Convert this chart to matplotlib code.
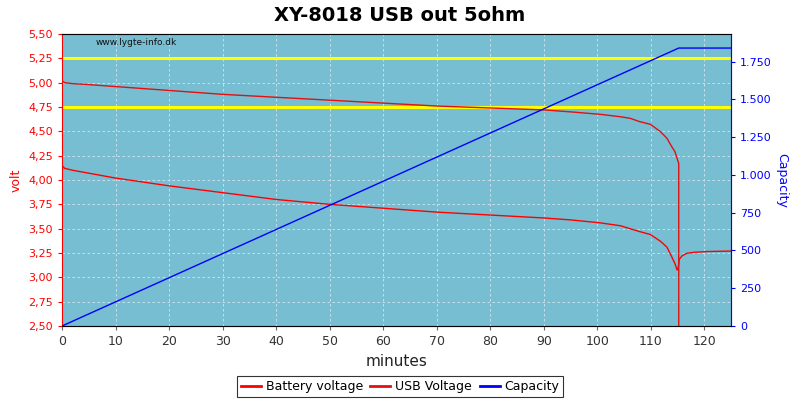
import numpy as np
import matplotlib.pyplot as plt
from matplotlib.ticker import FuncFormatter

# Data
bat_time = [0, 0.5, 2, 5, 10, 20, 30, 40, 50, 60, 70, 80, 90, 95, 100.5, 104.3, 106.1, 107.9,
            109.9, 111.8, 113.0, 113.9, 114.5, 114.9, 115.1, 115.3, 115.8, 116.7, 118.0, 120.5, 125]
bat_volt = [4.15, 4.12, 4.10, 4.07, 4.02, 3.94, 3.87, 3.80, 3.75, 3.71, 3.67, 3.64, 3.61, 3.59,
            3.56, 3.53, 3.50, 3.47, 3.44, 3.37, 3.31, 3.21, 3.14, 3.075, 3.10, 3.185, 3.22, 3.247,
            3.257, 3.265, 3.27]

usb_time = [0, 0.5, 2, 5, 10, 20, 30, 40, 50, 60, 70, 80, 90, 95, 100.5, 104.3, 106.1, 107.9,
            109.9, 111.8, 113.0, 113.9, 114.5, 114.9, 115.2, 115.21, 125]
usb_volt = [5.02, 5.00, 4.99, 4.98, 4.96, 4.92, 4.88, 4.85, 4.82, 4.79, 4.76, 4.74, 4.72, 4.70,
            4.675, 4.65, 4.634, 4.60, 4.572, 4.496, 4.428, 4.342, 4.29, 4.22, 4.17, 0.0, 0.0]

cap_time = [0, 115.2, 125]
cap_mah = [0, 1840, 1840]

limits = [4.75, 5.25]

fig = plt.figure(figsize=(8, 4), dpi=100)
ax = fig.add_axes([0.0775, 0.185, 0.8365, 0.73])
ax.set_facecolor("#78bed2")

for v in limits:
    ax.axhline(v, color="#ffff00", lw=2.2, zorder=2)
ax.grid(True, color="#d4e6ee", ls=(0, (3, 3)), lw=0.6)

l1, = ax.plot(bat_time, bat_volt, color="#ff0000", lw=1, label="Battery voltage", zorder=3)
l2, = ax.plot(usb_time, usb_volt, color="#e21010", lw=1, label="USB Voltage", zorder=3)

ax.set_xlim(0, 125)
ax.set_ylim(2.5, 5.5)
ax.set_xticks(np.arange(0, 121, 10))
ax.set_yticks(np.arange(2.5, 5.51, 0.25))
ax.yaxis.set_major_formatter(FuncFormatter(lambda v, p: f"{v:.2f}".replace(".", ",")))
ax.tick_params(axis="y", colors="red", labelsize=8, length=3)
ax.tick_params(axis="x", colors="#666666", labelcolor="#333333", labelsize=9, length=3)
ax.set_ylabel("volt", color="red", fontsize=9)
ax.set_xlabel("minutes", fontsize=11, color="#222222")
ax.spines["left"].set_color("red")
ax.spines["top"].set_color("#666666")
ax.spines["bottom"].set_color("#888888")
ax.spines["right"].set_color("#666666")

ax2 = ax.twinx()
l3, = ax2.plot(cap_time, cap_mah, color="#0000ff", lw=1, label="Capacity", zorder=3)
ax2.set_ylim(0, 1933)
ax2.set_yticks(np.arange(0, 1751, 250))
ax2.yaxis.set_major_formatter(FuncFormatter(lambda v, p: f"{int(v):,}".replace(",", ".")))
ax2.tick_params(axis="y", colors="blue", labelsize=8, length=3)
ax2.set_ylabel("Capacity", color="blue", fontsize=9, rotation=-90, labelpad=12)
ax2.spines["right"].set_color("blue")
ax2.spines["left"].set_visible(False)

ax.text(0.05, 0.985, "www.lygte-info.dk", transform=ax.transAxes, fontsize=6.5,
        va="top", ha="left", color="#111111")

fig.suptitle("XY-8018 USB out 5ohm", fontsize=14, fontweight="bold", y=0.985)

leg = fig.legend([l1, l2, l3], ["Battery voltage", "USB Voltage", "Capacity"], loc="lower center",
                 bbox_to_anchor=(0.5, -0.008), ncol=3, fontsize=9, frameon=True, fancybox=False,
                 handlelength=1.6, handletextpad=0.4, columnspacing=0.6, borderpad=0.3)
leg.get_frame().set_edgecolor("black")
leg.get_frame().set_linewidth(0.8)
for h in leg.legend_handles:
    h.set_linewidth(2)

fig.savefig("out.png", dpi=100)
